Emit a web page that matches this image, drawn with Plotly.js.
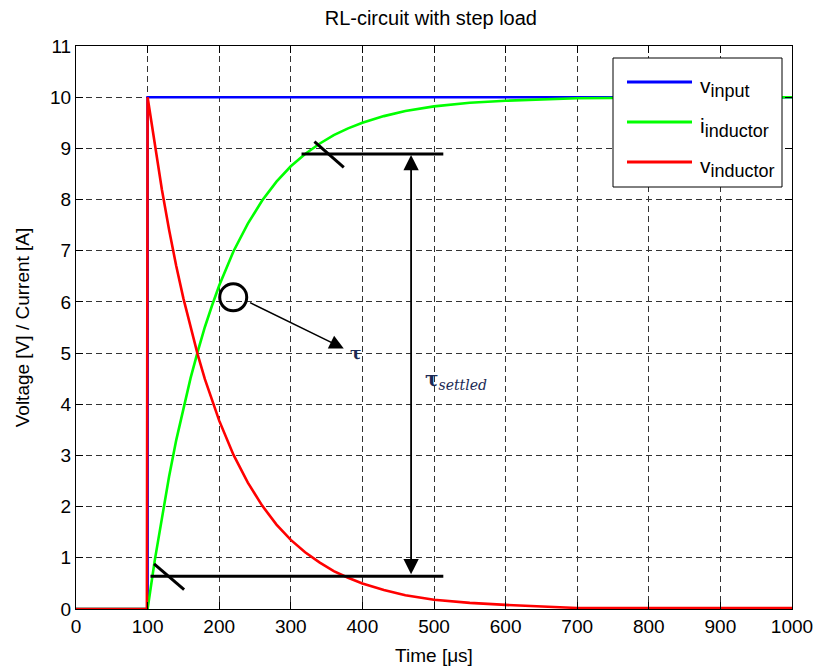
<!DOCTYPE html>
<html>
<head>
<meta charset="utf-8">
<script src="https://cdn.plot.ly/plotly-3.0.1.min.js"></script>
<style>html,body{margin:0;padding:0;background:#fff;}#chart{width:816px;height:668px;}</style>
</head>
<body>
<div id="chart"></div>
<script>
// ---- data ----
const t_input = [0, 100, 100, 1000];
const v_input = [0, 0, 10, 10];

const t_iind = [0, 100, 110, 120, 130, 140, 150, 160, 170, 180, 190, 200, 220, 240, 260, 280, 300, 320, 340, 360, 380, 400, 430, 460, 500, 550, 600, 650, 700, 800, 900, 1000];
const i_inductor = [0, 0, 0.95, 1.81, 2.59, 3.30, 3.93, 4.51, 5.03, 5.51, 5.93, 6.32, 6.99, 7.53, 7.98, 8.35, 8.65, 8.89, 9.09, 9.26, 9.39, 9.50, 9.63, 9.73, 9.82, 9.89, 9.93, 9.96, 9.98, 9.99, 10.0, 10.0];

const t_vind = [0, 99, 100, 110, 120, 130, 140, 150, 160, 170, 180, 190, 200, 220, 240, 260, 280, 300, 320, 340, 360, 380, 400, 430, 460, 500, 550, 600, 650, 700, 800, 900, 1000];
const v_inductor = [0, 0, 10, 9.05, 8.19, 7.41, 6.70, 6.07, 5.49, 4.97, 4.49, 4.07, 3.68, 3.01, 2.47, 2.02, 1.65, 1.35, 1.11, 0.91, 0.74, 0.61, 0.50, 0.37, 0.27, 0.18, 0.12, 0.08, 0.05, 0.02, 0.02, 0.02, 0.02];

const seriesBase = ['v', 'i', 'v'];
const seriesSub = ['input', 'inductor', 'inductor'];
const seriesColors = ['#0000ff', '#00ff00', '#ff0000'];

// annotation geometry (data units)
const settled_t = [315, 513];
const settled_y = [8.89, 8.89];
const start_t = [104, 513];
const start_y = [0.64, 0.64];
const topTick_t = [333, 374];
const topTick_y = [9.13, 8.63];
const botTick_t = [109, 151];
const botTick_y = [0.88, 0.38];
const circle_t = [219.6];
const circle_y = [6.09];
const tauArrowFrom = [241, 6.0];
const tauArrowTo = [374, 5.09];
const spanArrow_t = 468;
const spanArrow_y = [0.65, 8.87];
const tauLabelPos = [380, 5.0];
const settledLabelPos = [484, 4.47];

const xTicks = [0, 100, 200, 300, 400, 500, 600, 700, 800, 900, 1000];
const yTicks = [0, 1, 2, 3, 4, 5, 6, 7, 8, 9, 10, 11];

const FONT = 'Liberation Sans, Arial, sans-serif';
const seriesNames = seriesBase.map((b, i) => b + '<sub>' + seriesSub[i] + '</sub>');

const traces = [
  {x: t_input, y: v_input, mode: 'lines', name: seriesNames[0], line: {color: seriesColors[0], width: 2.6}},
  {x: t_iind, y: i_inductor, mode: 'lines', name: seriesNames[1], line: {color: seriesColors[1], width: 2.6}},
  {x: t_vind, y: v_inductor, mode: 'lines', name: seriesNames[2], line: {color: seriesColors[2], width: 2.6}},
  {x: settled_t, y: settled_y, mode: 'lines', line: {color: '#000', width: 3}},
  {x: start_t, y: start_y, mode: 'lines', line: {color: '#000', width: 3}},
  {x: topTick_t, y: topTick_y, mode: 'lines', line: {color: '#000', width: 3}},
  {x: botTick_t, y: botTick_y, mode: 'lines', line: {color: '#000', width: 3}},
  {x: circle_t, y: circle_y, mode: 'markers', marker: {symbol: 'circle-open', size: 27, color: '#000', line: {width: 3, color: '#000'}}}
];

// manual MATLAB-style legend (paper coordinates)
const plotL = 76, plotR = 792, plotT = 46, plotB = 609;
const px2x = p => (p - plotL) / (plotR - plotL);
const px2y = p => (plotB - p) / (plotB - plotT);
const legendRowsPx = [82, 122, 162];

const shapes = [
  {type: 'rect', xref: 'paper', yref: 'paper', x0: px2x(613), x1: px2x(782), y0: px2y(187), y1: px2y(58),
   fillcolor: '#fff', line: {color: '#000', width: 1}, layer: 'above'}
];
const annotations = [];
seriesBase.forEach((b, i) => {
  shapes.push({type: 'line', xref: 'paper', yref: 'paper', x0: px2x(627), x1: px2x(692),
    y0: px2y(legendRowsPx[i]), y1: px2y(legendRowsPx[i]), line: {color: seriesColors[i], width: 3}, layer: 'above'});
  annotations.push({xref: 'paper', yref: 'paper', x: px2x(698), y: px2y(legendRowsPx[i] + 5),
    xanchor: 'left', yanchor: 'middle', showarrow: false,
    text: b + '<sub><span style="font-size:18px">' + seriesSub[i] + '</span></sub>',
    font: {family: FONT, size: 21, color: '#000'}});
});

annotations.push(
  {x: tauArrowTo[0], y: tauArrowTo[1], ax: tauArrowFrom[0], ay: tauArrowFrom[1], xref: 'x', yref: 'y', axref: 'x', ayref: 'y',
   text: '', showarrow: true, arrowhead: 2, arrowsize: 1.9, arrowwidth: 1.5, arrowcolor: '#000', standoff: 0},
  {x: spanArrow_t, y: spanArrow_y[1], ax: spanArrow_t, ay: spanArrow_y[0], xref: 'x', yref: 'y', axref: 'x', ayref: 'y',
   text: '', showarrow: true, arrowhead: 2, startarrowhead: 2, arrowside: 'end+start', arrowsize: 1.7, startarrowsize: 1.7,
   arrowwidth: 1.8, arrowcolor: '#000', standoff: 0, startstandoff: 0},
  {x: tauLabelPos[0], y: tauLabelPos[1], xref: 'x', yref: 'y', xanchor: 'left', yanchor: 'middle', showarrow: false,
   text: '<b>τ</b>', font: {family: 'DejaVu Serif, serif', size: 17, color: '#1b2a55'}},
  {x: settledLabelPos[0], y: settledLabelPos[1], xref: 'x', yref: 'y', xanchor: 'left', yanchor: 'middle', showarrow: false,
   text: '<b>τ</b><sub><i>settled</i></sub>', font: {family: 'DejaVu Serif, serif', size: 20, color: '#1b2a55'}}
);

const layout = {
  width: 816, height: 668,
  margin: {l: 76, r: 24, t: 46, b: 59, pad: 0},
  paper_bgcolor: '#fff', plot_bgcolor: '#fff',
  font: {family: FONT, size: 19, color: '#000'},
  showlegend: false,
  hovermode: false,
  title: {text: 'RL-circuit with step load', font: {family: FONT, size: 20, color: '#000'}, x: 0.528, xanchor: 'center', y: 0.973, yanchor: 'middle'},
  xaxis: {
    range: [0, 1000], tickvals: xTicks, ticktext: xTicks.map(String),
    showgrid: true, gridcolor: '#333', gridwidth: 1, griddash: '6px,4px',
    zeroline: false, showline: true, linecolor: '#000', linewidth: 1, mirror: 'ticks',
    ticks: 'inside', ticklen: 7, tickcolor: '#000', tickfont: {family: FONT, size: 19},
    title: {text: 'Time [μs]', font: {family: FONT, size: 19}, standoff: 12}
  },
  yaxis: {
    range: [0, 11], tickvals: yTicks, ticktext: yTicks.map(String),
    showgrid: true, gridcolor: '#333', gridwidth: 1, griddash: '6px,4px',
    zeroline: false, showline: true, linecolor: '#000', linewidth: 1, mirror: 'ticks',
    ticks: 'inside', ticklen: 7, tickcolor: '#000', tickfont: {family: FONT, size: 19},
    title: {text: 'Voltage [V] / Current [A]', font: {family: FONT, size: 19}, standoff: 15}
  },
  shapes: shapes,
  annotations: annotations
};

Plotly.newPlot('chart', traces, layout, {displayModeBar: false, staticPlot: true});
</script>
</body>
</html>
